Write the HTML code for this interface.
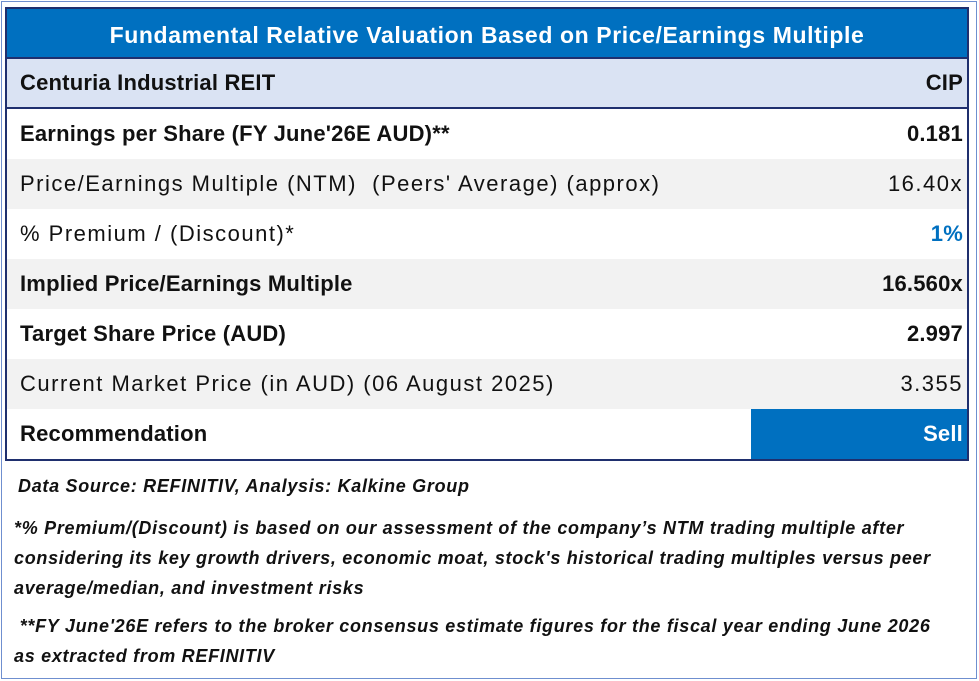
<!DOCTYPE html>
<html><head><meta charset="utf-8"><style>
body{margin:0;width:979px;height:681px;background:#fff;font-family:"Liberation Sans",sans-serif;position:relative;overflow:hidden}
#frame{position:absolute;left:1px;top:1px;width:974px;height:676px;border:1px solid #6f8fcf}
#tbl{position:absolute;left:5px;top:7px;width:960px;height:450px;border:2px solid #1f2f6e;box-sizing:content-box}
.row{position:absolute;left:0;width:960px;height:50px;font-size:22px;letter-spacing:1.5px;color:#111;line-height:50px;white-space:nowrap}
.row .l{position:absolute;left:13px}
.row .r{position:absolute;right:4px}
.b{font-weight:bold;letter-spacing:0.2px}
.g{background:#f2f2f2}
.note{position:absolute;font-style:italic;font-weight:bold;font-size:18px;letter-spacing:0.7px;color:#111;line-height:30px}
</style></head><body>
<div id="frame"></div>
<div id="tbl">
<div class="row" style="top:0;height:50px;background:#0070c0;color:#fff;font-weight:bold;text-align:center;font-size:23px;letter-spacing:0.6px;border-bottom:2px solid #1f2f6e;box-sizing:border-box;line-height:52px">Fundamental Relative Valuation Based on Price/Earnings Multiple</div>
<div class="row b" style="top:50px;background:#dae3f3;border-bottom:2px solid #1f2f6e;box-sizing:border-box;line-height:48px"><span class="l">Centuria Industrial REIT</span><span class="r">CIP</span></div>
<div class="row b" style="top:100px"><span class="l">Earnings per Share (FY June'26E AUD)**</span><span class="r">0.181</span></div>
<div class="row g" style="top:150px"><span class="l">Price/Earnings Multiple (NTM)&nbsp; (Peers' Average) (approx)</span><span class="r">16.40x</span></div>
<div class="row" style="top:200px"><span class="l">% Premium / (Discount)*</span><span class="r b" style="color:#0070c0">1%</span></div>
<div class="row b g" style="top:250px"><span class="l">Implied Price/Earnings Multiple</span><span class="r">16.560x</span></div>
<div class="row b" style="top:300px"><span class="l">Target Share Price (AUD)</span><span class="r">2.997</span></div>
<div class="row g" style="top:350px"><span class="l">Current Market Price (in AUD) (06 August 2025)</span><span class="r">3.355</span></div>
<div class="row b" style="top:400px"><span class="l">Recommendation</span>
<div style="position:absolute;left:744px;top:0;width:216px;height:50px;background:#0070c0;color:#fff;text-align:right"><span style="padding-right:4px">Sell</span></div></div>
</div>
<div class="note" style="left:18px;top:471px">Data Source: REFINITIV, Analysis: Kalkine Group</div>
<div class="note" style="left:14px;top:513px;width:935px">*% Premium/(Discount) is based on our assessment of the company’s NTM trading multiple after considering its key growth drivers, economic moat, stock's historical trading multiples versus peer average/median, and investment risks</div>
<div class="note" style="left:14px;top:611px;width:935px">&nbsp;**FY June'26E refers to the broker consensus estimate figures for the fiscal year ending June 2026 as extracted from REFINITIV</div>
</body></html>
